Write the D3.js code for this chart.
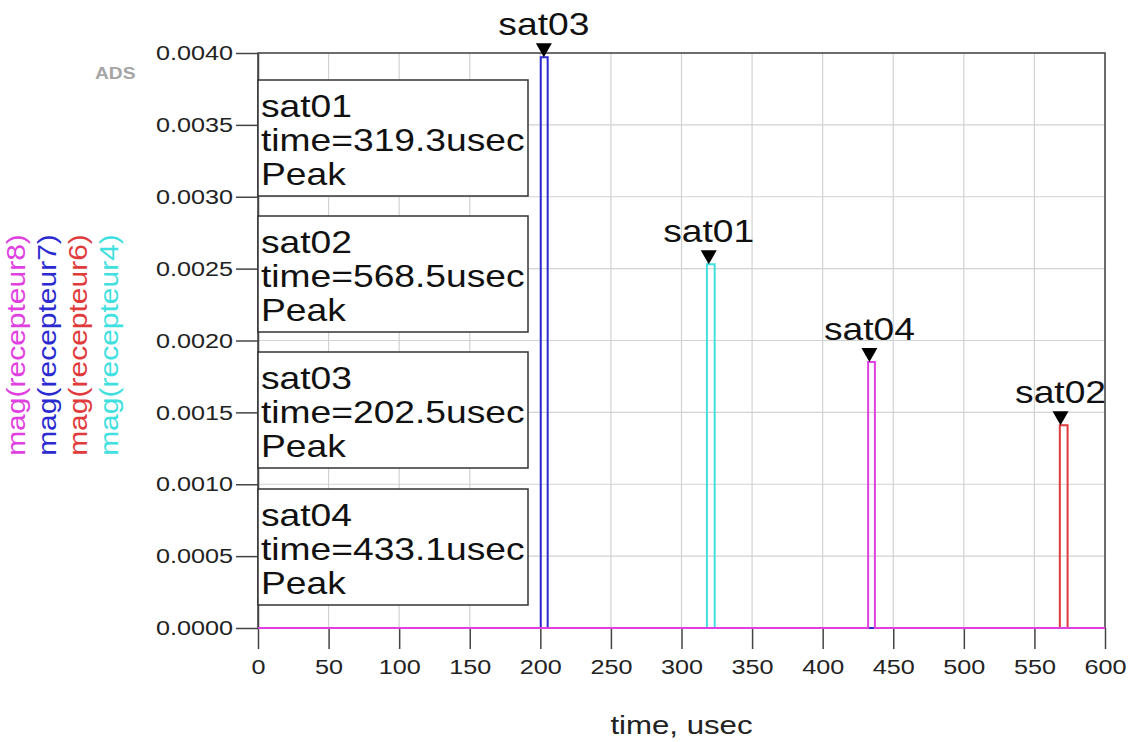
<!DOCTYPE html>
<html>
<head>
<meta charset="utf-8">
<script src="https://cdn.jsdelivr.net/npm/d3@7"></script>
<style>
  body { margin: 0; background: #fff; }
  text { font-family: "Liberation Sans", Arial, sans-serif; }
</style>
</head>
<body>
<div id="chart"></div>
<script>
// data
var xTicks = [0, 50, 100, 150, 200, 250, 300, 350, 400, 450, 500, 550, 600];
var yTicks = [0, 0.0005, 0.0010, 0.0015, 0.0020, 0.0025, 0.0030, 0.0035, 0.0040];

var recepteur8 = [[0, 0], [432.2, 0], [432.2, 0.00185], [437, 0.00185], [437, 0], [600, 0]];
var recepteur7 = [[0, 0], [200.3, 0], [200.3, 0.00397], [205.2, 0.00397], [205.2, 0], [600, 0]];
var recepteur6 = [[0, 0], [568, 0], [568, 0.00141], [573.5, 0.00141], [573.5, 0], [600, 0]];
var recepteur4 = [[0, 0], [318, 0], [318, 0.00253], [323.5, 0.00253], [323.5, 0], [600, 0]];

var seriesNames = ["mag(recepteur8)", "mag(recepteur7)", "mag(recepteur6)", "mag(recepteur4)"];
var seriesColors = ["#e040e0", "#2a2ad0", "#e03a3a", "#40e0e0"];

var markerNames = ["sat01", "sat02", "sat03", "sat04"];
var markerTimes = [319.3, 568.5, 202.5, 433.1];
var markerValues = [0.00253, 0.00141, 0.00397, 0.00185];

var svgWidth = 1131;
var svgHeight = 742;
var margin = { top: 53, right: 26, bottom: 114, left: 258 };
var width = svgWidth - margin.left - margin.right;
var height = svgHeight - margin.top - margin.bottom;

// the original's lettering is wider than Arial, stretch it sideways
var stretch = 1.2;
function widen(sel, x0) {
  sel.attr("transform", `translate(${x0 * (1 - stretch)}, 0) scale(${stretch}, 1)`);
}

var svg = d3.select("#chart")
  .append("svg")
  .attr("width", svgWidth)
  .attr("height", svgHeight);

var chartGroup = svg.append("g")
  .attr("transform", `translate(${margin.left}, ${margin.top})`);

var xScale = d3.scaleLinear().domain([0, 600]).range([0, width]);
var yScale = d3.scaleLinear().domain([0, 0.004]).range([height, 0]);

// grid
chartGroup.append("g")
  .selectAll("line")
  .data(xTicks)
  .enter()
  .append("line")
  .attr("x1", d => xScale(d)).attr("x2", d => xScale(d))
  .attr("y1", 0).attr("y2", height)
  .attr("stroke", "#d2d2d2").attr("stroke-width", 1.2);

chartGroup.append("g")
  .selectAll("line")
  .data(yTicks)
  .enter()
  .append("line")
  .attr("x1", 0).attr("x2", width)
  .attr("y1", d => yScale(d)).attr("y2", d => yScale(d))
  .attr("stroke", "#d2d2d2").attr("stroke-width", 1.2);

// axes
var bottomAxis = d3.axisBottom(xScale).tickValues(xTicks).tickSize(21).tickSizeOuter(0).tickPadding(10);
var leftAxis = d3.axisLeft(yScale).tickValues(yTicks).tickSize(22).tickSizeOuter(0).tickPadding(3)
  .tickFormat(d3.format(".4f"));

var xAxisG = chartGroup.append("g")
  .attr("transform", `translate(0, ${height})`)
  .call(bottomAxis);
var yAxisG = chartGroup.append("g").call(leftAxis);

[xAxisG, yAxisG].forEach(function(g) {
  g.selectAll("path, line").attr("stroke", "#444").attr("stroke-width", 1.5);
  g.selectAll("text").attr("fill", "#222").style("font-size", "21px");
});
xAxisG.select(".domain").remove();
xAxisG.selectAll("text").call(widen, 0);
yAxisG.selectAll("text").call(widen, -25);

// frame
chartGroup.append("rect")
  .attr("x", 0).attr("y", 0)
  .attr("width", width).attr("height", height)
  .attr("fill", "none")
  .attr("stroke", "#444").attr("stroke-width", 1.5);

// annotation boxes
var boxTops = [27, 163, 299, 436];
var boxGroup = chartGroup.selectAll(".box")
  .data(markerNames)
  .enter()
  .append("g")
  .attr("transform", (d, i) => `translate(0, ${boxTops[i]})`);

boxGroup.append("rect")
  .attr("x", 0).attr("y", 0)
  .attr("width", 270).attr("height", 116)
  .attr("fill", "#fff")
  .attr("stroke", "#333").attr("stroke-width", 1.5);

boxGroup.each(function(d, i) {
  var lines = [d, "time=" + markerTimes[i] + "usec", "Peak"];
  d3.select(this).selectAll("text")
    .data(lines)
    .enter()
    .append("text")
    .attr("x", 3)
    .attr("y", (l, j) => 37 + j * 34)
    .style("font-size", "31px")
    .attr("fill", "#111")
    .text(l => l)
    .call(widen, 3);
});

// traces
var line = d3.line()
  .x(d => xScale(d[0]))
  .y(d => yScale(d[1]));

var traces = [recepteur8, recepteur7, recepteur6, recepteur4];
// magenta last so its baseline sits on top
[3, 2, 1, 0].forEach(function(i) {
  chartGroup.append("path")
    .datum(traces[i])
    .attr("d", line)
    .attr("fill", "none")
    .attr("stroke", seriesColors[i])
    .attr("stroke-width", 2);
});

// markers
var markerGroup = chartGroup.selectAll(".marker")
  .data(markerNames)
  .enter()
  .append("g")
  .attr("transform", (d, i) => `translate(${xScale(markerTimes[i])}, ${yScale(markerValues[i])})`);

markerGroup.append("path")
  .attr("d", "M0,0 L-8,-14 L8,-14 Z")
  .attr("fill", "#000");

markerGroup.append("text")
  .attr("x", 0)
  .attr("y", -22)
  .attr("text-anchor", "middle")
  .style("font-size", "31px")
  .attr("fill", "#111")
  .text(d => d)
  .call(widen, 0);

// y labels (rotated, one per trace)
seriesNames.forEach(function(name, i) {
  svg.append("text")
    .attr("transform", `translate(${25 + i * 31}, 345) rotate(-90) scale(${stretch}, 1)`)
    .attr("text-anchor", "middle")
    .style("font-size", "25px")
    .attr("fill", seriesColors[i])
    .text(name);
});

// x label
svg.append("text")
  .attr("transform", `translate(${margin.left + width / 2}, 734) scale(${stretch}, 1)`)
  .attr("text-anchor", "middle")
  .style("font-size", "26px")
  .attr("fill", "#222")
  .text("time, usec");

// ADS tag
svg.append("text")
  .attr("transform", `translate(95, 79) scale(${stretch}, 1)`)
  .style("font-size", "16px")
  .style("font-weight", "bold")
  .attr("fill", "#a5a5a5")
  .text("ADS");
</script>
</body>
</html>
